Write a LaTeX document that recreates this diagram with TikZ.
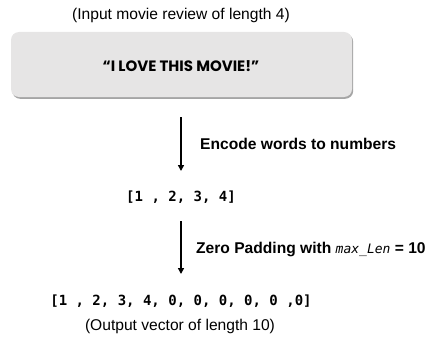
\documentclass[tikz,border=0pt]{standalone}
\usepackage{fontspec}
\setmainfont{Liberation Sans}
\setmonofont{DejaVu Sans Mono}
\newfontfamily\quotefont{Poppins}
\usetikzlibrary{shadows,arrows.meta}
\definecolor{boxgray}{HTML}{E6E5E5}
\tikzset{
  caption/.style={font=\fontsize{15.6}{18}\selectfont, inner sep=0pt},
  steplabel/.style={font=\fontsize{15.6}{18}\selectfont\bfseries, inner sep=0pt, anchor=west},
  vec/.style={font=\fontsize{14}{16}\selectfont\ttfamily\bfseries, inner sep=0pt},
  flow/.style={line width=1.8pt, -{Triangle[length=6pt,width=6pt]}},
  reviewbox/.style={rounded corners=8pt, fill=boxgray,
    drop shadow={shadow xshift=1.2pt, shadow yshift=-1.8pt, opacity=0.5, fill=black!70}}
}
\begin{document}
\begin{tikzpicture}[x=1pt,y=-1pt]
  \useasboundingbox (0,0) rectangle (435,342);
  \node[caption] (title) at (181,15) {(Input movie review of length 4)};
  \path[reviewbox] (11,32) rectangle (352,97);
  \node[inner sep=0pt, font=\quotefont\fontsize{15}{17}\selectfont\bfseries] (review) at (181,66) {“I LOVE THIS MOVIE!”};
  \coordinate (a1s) at (181,117);
  \node[vec] (v4) at (181,197) {[1 , 2, 3, 4]};
  \draw[flow] (a1s) -- (181,171);
  \node[steplabel] (l1) at (200,144) {Encode words to numbers};
  \coordinate (a2s) at (181,221);
  \coordinate (a2e) at (181,274);
  \draw[flow] (a2s) -- (a2e);
  \node[steplabel] (l2) at (196,249) {Zero Padding with {\mdseries\itshape\ttfamily\fontsize{13}{15}\selectfont max\_Len} = 10};
  \node[vec] (v10) at (181,301) {[1 , 2, 3, 4, 0, 0, 0, 0, 0 ,0]};
  \node[caption] (out) at (180,326) {(Output vector of length 10)};
\end{tikzpicture}
\end{document}
